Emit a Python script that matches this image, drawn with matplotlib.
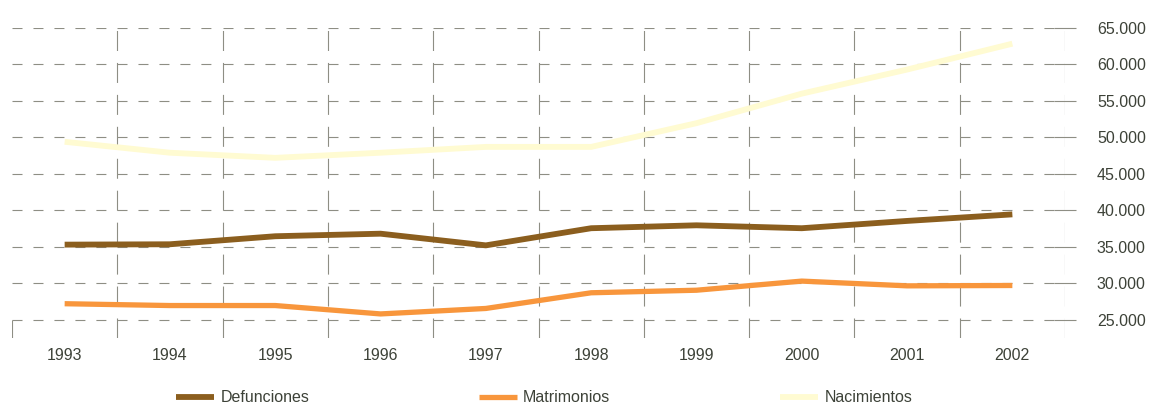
import matplotlib
matplotlib.use("Agg")
import matplotlib.pyplot as plt

# datos (1993-2002)
years = ["1993", "1994", "1995", "1996", "1997", "1998", "1999", "2000", "2001", "2002"]
defunciones = [35300, 35350, 36450, 36800, 35200, 37550, 37950, 37550, 38550, 39450]
matrimonios = [27200, 26950, 26950, 25800, 26550, 28700, 29050, 30300, 29650, 29700]
nacimientos = [49400, 47900, 47200, 47900, 48700, 48700, 51950, 56000, 59300, 62850]
y_ticks = [25000, 30000, 35000, 40000, 45000, 50000, 55000, 60000, 65000]

plt.rcParams["font.family"] = ["Liberation Sans", "DejaVu Sans"]
plt.rcParams["lines.scale_dashes"] = False

grid_col = "#8e8e84"
text_col = "#3d4238"

fig = plt.figure(figsize=(11.51, 4.08), dpi=100)
ax = fig.add_axes([12 / 1151, 1 - 338 / 408, 1053 / 1151, 310 / 408])

n = len(years)
x = list(range(n))

# horizontal dashed grid, restarted in every cell
for v in y_ticks:
    for i in range(n):
        ax.hlines(v, i - 0.5, i + 0.4, colors=grid_col, linewidth=0.8,
                  linestyles=(0, (7.2, 7.9)), zorder=1)

# vertical dashed grid at category borders (last one is the axis)
for i in range(n):
    ax.vlines(i + 0.5, 22500, 65000, colors=grid_col, linewidth=0.8,
              linestyles=(0, (14.4, 8.6)), zorder=1)
ax.vlines(-0.5, 22500, 25000, colors=grid_col, linewidth=0.8, zorder=1)

ax.plot(x, defunciones, color="#8b5e1e", linewidth=4.2, label="Defunciones",
        solid_joinstyle="round", solid_capstyle="butt", zorder=3)
ax.plot(x, matrimonios, color="#f8963c", linewidth=3.8, label="Matrimonios",
        solid_joinstyle="round", solid_capstyle="butt", zorder=3)
ax.plot(x, nacimientos, color="#fffbd2", linewidth=4.2, label="Nacimientos",
        solid_joinstyle="round", solid_capstyle="butt", zorder=3)

ax.set_xlim(-0.5, n - 0.5)
ax.set_ylim(22500, 65000)

ax.set_xticks(x)
ax.set_xticklabels(years)
ax.tick_params(axis="x", length=0, pad=7, labelsize=11.5, labelcolor=text_col)

ax.yaxis.tick_right()
ax.set_yticks(y_ticks)
ax.set_yticklabels([f"{v:,}".replace(",", ".") for v in y_ticks])
ax.tick_params(axis="y", direction="inout", length=16, width=0.8, color=grid_col,
               pad=15, labelsize=11.5, labelcolor=text_col)

for s in ax.spines.values():
    s.set_visible(False)
ax.patch.set_alpha(0)

fig.legend(loc="center", bbox_to_anchor=(544 / 1151, 1 - 398 / 408), ncol=3,
           frameon=False, handlelength=2.4, handletextpad=0.4,
           columnspacing=10.6, fontsize=11.5, labelcolor=text_col)

fig.savefig("out.png", dpi=100)
plt.close(fig)
